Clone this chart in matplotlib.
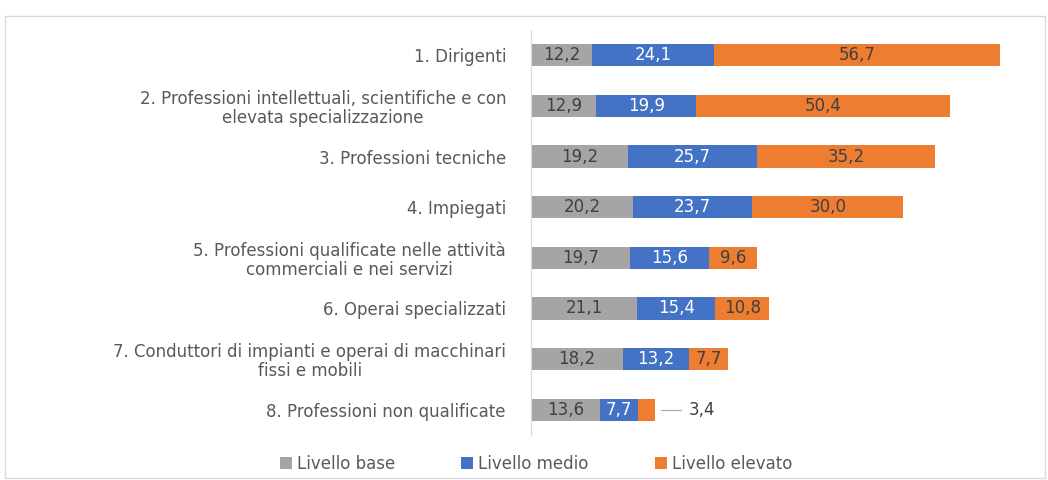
import matplotlib.pyplot as plt
from matplotlib.patches import Rectangle

# Data
categories = [
    "1. Dirigenti",
    "2. Professioni intellettuali, scientifiche e con\nelevata specializzazione",
    "3. Professioni tecniche",
    "4. Impiegati",
    "5. Professioni qualificate nelle attività\ncommerciali e nei servizi",
    "6. Operai specializzati",
    "7. Conduttori di impianti e operai di macchinari\nfissi e mobili",
    "8. Professioni non qualificate",
]
base = [12.2, 12.9, 19.2, 20.2, 19.7, 21.1, 18.2, 13.6]
medio = [24.1, 19.9, 25.7, 23.7, 15.6, 15.4, 13.2, 7.7]
elevato = [56.7, 50.4, 35.2, 30.0, 9.6, 10.8, 7.7, 3.4]
series_names = ["Livello base", "Livello medio", "Livello elevato"]

colors = ["#A5A5A5", "#4472C4", "#ED7D31"]
text_colors = ["#404040", "white", "#404040"]
txt = "#595959"
plt.rcParams['font.family'] = ['DejaVu Sans']
fs = 12

fig = plt.figure(figsize=(10.48, 4.8), dpi=100)
fig.patches.append(Rectangle((5 / 1048, 2 / 480), 1040 / 1048, 462 / 480,
                             transform=fig.transFigure, fill=False,
                             edgecolor="#D9D9D9", lw=1))
ax = fig.add_axes([531 / 1048, 45 / 480, 504 / 1048, 405 / 480])

y = list(range(len(categories)))
left = [0] * len(categories)
bars = []
for vals, c, tc, name in zip([base, medio, elevato], colors, text_colors, series_names):
    b = ax.barh(y, vals, left=left, height=0.44, color=c, label=name)
    bars.append(b)
    for i, v in enumerate(vals):
        if v < 5:
            continue
        ax.text(left[i] + v / 2, i, f"{v:.1f}".replace(".", ","), ha="center",
                va="center", color=tc, fontsize=fs)
    left = [l + v for l, v in zip(left, vals)]

# small slice with leader label
i = len(categories) - 1
end = left[i]
ax.plot([end + 1, end + 5], [i, i], color="#A6A6A6", lw=0.8)
ax.text(end + 6.5, i, f"{elevato[i]:.1f}".replace(".", ","), ha="left",
        va="center", color="#404040", fontsize=fs)

ax.set_yticks(y)
ax.set_yticklabels(categories, fontsize=fs, color=txt, multialignment="center",
                   linespacing=1.05)
ax.tick_params(axis="y", length=0, pad=18)
ax.set_xticks([])
ax.set_xlim(0, 100)
ax.set_ylim(len(categories) - 0.5, -0.5)
for s in ["top", "right", "bottom"]:
    ax.spines[s].set_visible(False)
ax.spines["left"].set_color("#D9D9D9")

fig.legend(handles=bars, labels=series_names, loc="center", ncol=3,
           bbox_to_anchor=(536 / 1048, 16 / 480), frameon=False, fontsize=fs,
           labelcolor=txt, handlelength=0.7, handleheight=0.7,
           handletextpad=0.3, columnspacing=4.0)

fig.savefig("out.png", dpi=100)
